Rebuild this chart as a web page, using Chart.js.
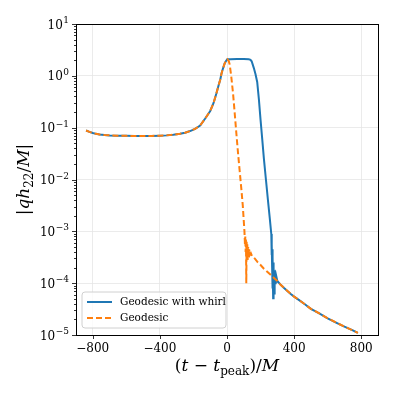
<!DOCTYPE html>
<html>
<head>
<meta charset="utf-8">
<script src="https://cdn.jsdelivr.net/npm/chart.js@4.4.1/dist/chart.umd.min.js"></script>
<style>
html,body{margin:0;padding:0;background:#fff;}
#wrap{width:397px;height:397px;}
</style>
</head>
<body>
<div id="wrap"><canvas id="grafica" width="397" height="397"></canvas></div>
<script>
// values: (t - t_peak)/M  vs  |q h22 / M|
var tInspiral = [-840,-820,-800,-780,-760,-730,-700,-650,-600,-550,-500,-450,-400,-360,-320,-280,-250,-220,-190,-160,-130,-100,-80,-63,-50,-40,-33,-25,-14,-5,2];
var ampInspiral = [0.088,0.083,0.079,0.076,0.074,0.072,0.071,0.070,0.0695,0.069,0.069,0.0693,0.070,0.071,0.073,0.076,0.080,0.086,0.095,0.110,0.150,0.21,0.30,0.46,0.66,0.85,1.10,1.35,1.74,1.95,2.08];

// plain geodesic: drop right after the peak, noisy bit, then the slow tail
var tGeoDrop = [10,16,25,36,46,56,66,76,86,94,100,104,107,109,111,113,115,117,119,121,123,126,129,132,136,142,150,165,180,200,220,240,260,280];
var ampGeoDrop = [1.95,1.66,1.0,0.457,0.19,0.076,0.0316,0.0141,0.0063,0.00316,0.00158,0.00100,0.00056,0.00079,0.00040,0.00071,0.00010,0.00063,0.00032,0.00056,0.00028,0.00050,0.00032,0.00045,0.00035,0.00038,0.00033,0.00030,0.00026,0.000224,0.00019,0.000166,0.000145,0.000126];

// with whirl: plateau then a later drop
var tWhirl = [20,60,100,130,140,147,153,160,170,180,190,200,210,220,232,244,255,264,266,267,269,270,272,273,275,276,278,279,281,282,284,286,288,290,293,296];
var ampWhirl = [2.09,2.11,2.11,2.09,2.04,1.91,1.66,1.41,1.07,0.76,0.355,0.141,0.060,0.025,0.010,0.0040,0.00178,0.00089,0.00035,0.00056,0.00020,0.00045,0.000079,0.00032,0.000051,0.00025,0.000056,0.00020,0.000063,0.000178,0.000079,0.000158,0.00010,0.000141,0.000107,0.000126];

// common late tail
var tTail = [300,320,340,360,380,400,430,460,500,550,600,650,700,750,780];
var ampTail = [0.000110,0.000093,0.000081,0.000071,0.000062,0.000055,0.000047,0.000040,0.000032,0.000026,0.000021,0.0000174,0.0000145,0.0000123,0.0000110];

var xTicks = [-800,-400,0,400,800];
var yDecades = [-5,-4,-3,-2,-1,0,1];
var labelWhirl = "Geodesic with whirl";
var labelGeo = "Geodesic";

var azul = "#1f77b4";
var naranja = "#ff7f0e";
var fuente = "DejaVu Serif";

function puntos(xs, ys){
	var out = [];
	for(var i=0;i<xs.length;i++){ out.push({x:xs[i], y:ys[i]}); }
	return out;
}

var datosWhirl = puntos(tInspiral.concat(tWhirl, tTail), ampInspiral.concat(ampWhirl, ampTail));
var datosGeo = puntos(tInspiral.concat(tGeoDrop, tTail), ampInspiral.concat(ampGeoDrop, ampTail));

// text made of pieces (italic, roman, subscripts), centred on x
function piezas(ctx, lista, x, y){
	var w = 0;
	for(var i=0;i<lista.length;i++){ ctx.font = lista[i].f; w += ctx.measureText(lista[i].t).width; }
	var cx = x - w/2;
	ctx.textAlign = "left";
	ctx.textBaseline = "alphabetic";
	for(var j=0;j<lista.length;j++){
		ctx.font = lista[j].f;
		ctx.fillText(lista[j].t, cx, y + (lista[j].dy || 0));
		cx += ctx.measureText(lista[j].t).width;
	}
}

var extras = {
	id: "extras",
	afterDraw: function(chart){
		var ctx = chart.ctx, a = chart.chartArea;
		var sx = chart.scales.x, sy = chart.scales.y;
		ctx.save();
		ctx.fillStyle = "#000";
		ctx.strokeStyle = "#000";
		ctx.lineWidth = 1;
		// frame
		ctx.strokeRect(Math.round(a.left)+0.5, Math.round(a.top)+0.5, Math.round(a.right-a.left), Math.round(a.bottom-a.top));
		// tick marks, outward
		ctx.beginPath();
		sx.ticks.forEach(function(t){
			var p = Math.round(sx.getPixelForValue(t.value))+0.5;
			ctx.moveTo(p, a.bottom); ctx.lineTo(p, a.bottom+4);
		});
		sy.ticks.forEach(function(t){
			var p = Math.round(sy.getPixelForValue(t.value))+0.5;
			var l = t.major ? 4 : 2;
			ctx.moveTo(a.left, p); ctx.lineTo(a.left-l, p);
		});
		ctx.lineWidth = 0.8;
		ctx.stroke();

		// y tick labels 10^n with a raised exponent
		ctx.fillStyle = "#000";
		ctx.textBaseline = "alphabetic";
		ctx.textAlign = "left";
		sy.ticks.forEach(function(t){
			if(!t.major){ return; }
			var p = sy.getPixelForValue(t.value);
			var ex = String(t.exp).replace("-", "\u2212");
			ctx.font = "9px '" + fuente + "'";
			var we = ctx.measureText(ex).width;
			ctx.font = "12px '" + fuente + "'";
			var wb = ctx.measureText("10").width;
			var xr = a.left - 7;
			ctx.fillText("10", xr - we - wb - 0.5, p + 4.5);
			ctx.font = "9px '" + fuente + "'";
			ctx.fillText(ex, xr - we, p - 1);
		});

		// legend box
		var bx = 82, by = 292, bw = 144, bh = 36, r = 3;
		ctx.beginPath();
		ctx.moveTo(bx+r, by);
		ctx.lineTo(bx+bw-r, by); ctx.arcTo(bx+bw, by, bx+bw, by+r, r);
		ctx.lineTo(bx+bw, by+bh-r); ctx.arcTo(bx+bw, by+bh, bx+bw-r, by+bh, r);
		ctx.lineTo(bx+r, by+bh); ctx.arcTo(bx, by+bh, bx, by+bh-r, r);
		ctx.lineTo(bx, by+r); ctx.arcTo(bx, by, bx+r, by, r);
		ctx.closePath();
		ctx.fillStyle = "rgba(255,255,255,0.8)";
		ctx.fill();
		ctx.strokeStyle = "#d0d0d0";
		ctx.lineWidth = 1;
		ctx.stroke();
		var ds = chart.data.datasets;
		var filas = [302, 318];
		for(var i=0;i<ds.length;i++){
			ctx.beginPath();
			ctx.setLineDash(ds[i].borderDash || []);
			ctx.strokeStyle = ds[i].borderColor;
			ctx.lineWidth = 2;
			ctx.moveTo(87, filas[i]); ctx.lineTo(112, filas[i]);
			ctx.stroke();
			ctx.setLineDash([]);
			ctx.fillStyle = "#000";
			ctx.font = "10.5px '" + fuente + "'";
			ctx.textAlign = "left";
			ctx.textBaseline = "middle";
			ctx.fillText(ds[i].label, 120, filas[i]);
		}

		// axis titles
		ctx.fillStyle = "#000";
		var it = "italic 17px '" + fuente + "'", ro = "17px '" + fuente + "'", sb = "12px '" + fuente + "'";
		piezas(ctx, [
			{t:"(", f:ro}, {t:"t", f:it}, {t:" \u2212 ", f:ro}, {t:"t", f:it},
			{t:"peak", f:sb, dy:4}, {t:")/", f:ro}, {t:"M", f:it}
		], (a.left+a.right)/2, 371);
		ctx.save();
		ctx.translate(29, (a.top+a.bottom)/2);
		ctx.rotate(-Math.PI/2);
		piezas(ctx, [
			{t:"|", f:ro}, {t:"qh", f:it}, {t:"22", f:sb, dy:4}, {t:"/", f:ro}, {t:"M", f:it}, {t:"|", f:ro}
		], 0, 0);
		ctx.restore();
		ctx.restore();
	}
};

var chart = new Chart(document.getElementById("grafica").getContext("2d"), {
	type: "line",
	data: {
		datasets: [
			{
				label: labelWhirl,
				data: datosWhirl,
				borderColor: azul,
				backgroundColor: azul,
				borderWidth: 2,
				pointRadius: 0,
				tension: 0,
				fill: false,
				order: 1
			},
			{
				label: labelGeo,
				data: datosGeo,
				borderColor: naranja,
				backgroundColor: naranja,
				borderWidth: 2,
				borderDash: [6, 3],
				pointRadius: 0,
				tension: 0,
				fill: false,
				order: 0
			}
		]
	},
	options: {
		responsive: false,
		animation: false,
		devicePixelRatio: 1,
		layout: { padding: { top: 24, right: 19, left: 0, bottom: 0 } },
		plugins: { legend: { display: false }, tooltip: { enabled: false } },
		scales: {
			x: {
				type: "linear",
				min: -900,
				max: 900,
				afterBuildTicks: function(s){ s.ticks = xTicks.map(function(v){ return {value:v}; }); },
				afterFit: function(s){ s.height = 62; },
				grid: { color: "#e6e6e6", lineWidth: 0.8, drawTicks: false },
				border: { display: false },
				ticks: {
					color: "#000",
					font: { family: fuente, size: 12 },
					padding: 7,
					maxRotation: 0,
					autoSkip: false,
					callback: function(v){ return v < 0 ? "\u2212" + Math.abs(v) : String(v); }
				}
			},
			y: {
				type: "logarithmic",
				min: 1e-5,
				max: 10,
				afterBuildTicks: function(s){
					var tk = [];
					yDecades.forEach(function(e){
						tk.push({value: Math.pow(10, e), major: true, exp: e});
						if(e < 1){
							for(var m=2;m<10;m++){ tk.push({value: m*Math.pow(10, e), major: false}); }
						}
					});
					s.ticks = tk;
				},
				afterFit: function(s){ s.width = 76; },
				grid: {
					color: function(c){ return (c.tick && c.tick.major) ? "#e6e6e6" : "rgba(0,0,0,0)"; },
					lineWidth: 0.8,
					drawTicks: false
				},
				border: { display: false },
				ticks: { display: false, autoSkip: false }
			}
		}
	},
	plugins: [extras]
});
</script>
</body>
</html>
